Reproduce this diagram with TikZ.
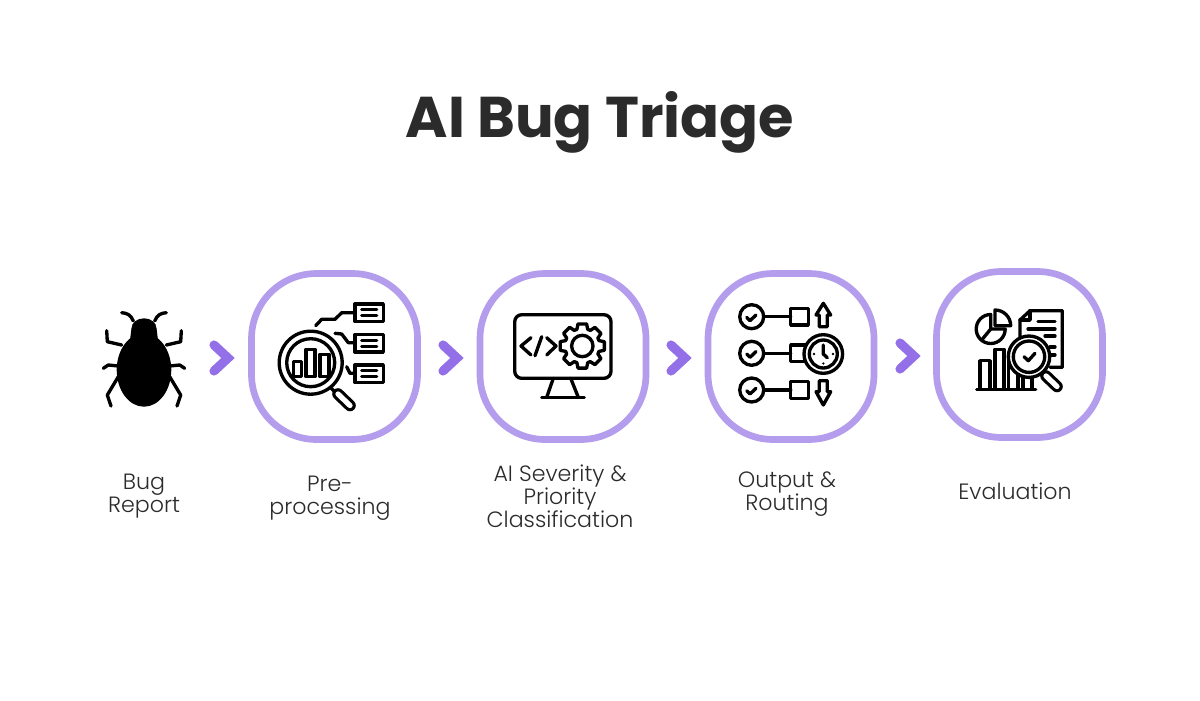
\documentclass[tikz,border=0pt]{standalone}
\usepackage{fontspec}
\setmainfont{Poppins}
\newfontfamily\titlefont{Poppins}[UprightFont=* Bold]
\newfontfamily\labelfont{Poppins}[UprightFont=* Light]
\usetikzlibrary{calc}
\usetikzlibrary{positioning}

\definecolor{ringpurple}{HTML}{B39DEC}
\definecolor{arrowpurple}{HTML}{9470E8}
\definecolor{inkgrey}{HTML}{2B2B2B}

\tikzset{
  stepbox/.style = {draw = ringpurple, line width = 3.8pt, fill = white, minimum size = 3.32cm, rounded corners = 1.3cm},
  nextarrow/.style = {draw = arrowpurple, line width = 5.2pt, line cap = round, miter limit = 10},
  iconline/.style = {draw = black, line width = 1.9pt, line cap = round, line join = round},
  handleout/.style = {draw = black, line width = 6.6pt, line cap = round},
  handlein/.style = {draw = white, line width = 3pt, line cap = round},
  steplabel/.style = {align = center, text = inkgrey, font = \labelfont\fontsize{12.6}{13}\selectfont},
}

\begin{document}
\begin{tikzpicture}[x=0.02cm, y=-0.02cm]

        \fill[white] (0,0) rectangle (1200,700);
        \useasboundingbox (0,0) rectangle (1200,700);

        % title
        \node[text = inkgrey, font = \titlefont\fontsize{32.7}{40}\selectfont] (title) at (600,122) {AI Bug Triage};

        % define center points
        \node[inner sep = 0] (bug_orig) at (144,370) {};
        \node[stepbox] (search_box) at (334.5,356.5) {};
        \node[stepbox] (code_box) at (563,356.5) {};
        \node[stepbox] (route_box) at (791,356.5) {};
        \node[stepbox] (eval_box) at (1019.5,354.5) {};

        % draw the labels
        \node[steplabel] (bug_label) at (144,496) {Bug\\Report};
        \node[steplabel] (search_label) at (330,498) {Pre-\\processing};
        \node[steplabel] (code_label) at (560,496.5) {AI Severity \&\\Priority\\Classification};
        \node[steplabel] (route_label) at (787,494.5) {Output \&\\Routing};
        \node[steplabel] (eval_label) at (1015,491) {Evaluation};

        % draw the arrows
        \coordinate (arrow_1) at (214,358);
        \coordinate (arrow_2) at (443,358);
        \coordinate (arrow_3) at (671,358);
        \coordinate (arrow_4) at (900,356);
        \draw[nextarrow] ($(arrow_1) + (0,-13)$) -- ($(arrow_1) + (14,0)$) -- ($(arrow_1) + (0,13)$);
        \draw[nextarrow] ($(arrow_2) + (0,-13)$) -- ($(arrow_2) + (14,0)$) -- ($(arrow_2) + (0,13)$);
        \draw[nextarrow] ($(arrow_3) + (0,-13)$) -- ($(arrow_3) + (14,0)$) -- ($(arrow_3) + (0,13)$);
        \draw[nextarrow] ($(arrow_4) + (0,-13)$) -- ($(arrow_4) + (14,0)$) -- ($(arrow_4) + (0,13)$);

        % draw the bug
        \fill[black] (bug_orig) ellipse (27.3 and 36.7);
        \fill[black] ($(bug_orig) + (0,-41.7)$) ellipse (12.5 and 10);
        \fill[black] ($(bug_orig) + (-12.5,-41.7)$) -- ($(bug_orig) + (12.5,-41.7)$) -- ($(bug_orig) + (14,-30)$) -- ($(bug_orig) + (-14,-30)$) -- cycle;
        \foreach \s in {-1,1} {
          \draw[iconline] (144+\s*10.7,321) .. controls (144+\s*13,315) and (144+\s*17,313) .. (144+\s*22.3,312.7);
          \draw[iconline] (144+\s*22.3,345) -- (144+\s*36.7,341.7) -- (144+\s*37.3,330.7);
          \draw[iconline] (144+\s*25.7,366) -- (144+\s*35.7,365) -- (144+\s*40.7,368.3);
          \draw[iconline] (144+\s*25.7,376.7) -- (144+\s*36.7,395) -- (144+\s*33,406);
        }

        % draw the search icon
        \draw[iconline] (315.7,325.7) -- (321.7,319.3) -- (335,319.3) -- (341.7,312.7) -- (355,312.7);
        \draw[iconline] (335,333.3) -- (341.7,334) -- (348.3,342.7) -- (355,342.7);
        \draw[iconline] (346.7,366.7) -- (350,373.3) -- (355,373.3);
        \foreach \y in {312.7,343.3,373.7} {
          \draw[iconline] (355,\y-8.8) rectangle (383.3,\y+8.8);
          \draw[iconline] (361.7,\y-3) -- (376.7,\y-3);
          \draw[iconline] (361.7,\y+3) -- (376.7,\y+3);
        }
        \draw[iconline] (331,388) -- (338,395);
        \draw[handleout] (338,394) -- (350,405.5);
        \draw[handlein] (338,394) -- (350,405.5);
        \draw[iconline, fill = white] (310.7,362.7) circle (31.5);
        \draw[iconline] (310.7,362.7) circle (24);
        \draw[iconline] (293.3,361.7) rectangle (301.7,376.7);
        \draw[iconline] (306,349.3) rectangle (315,376.7);
        \draw[iconline] (320,354.3) rectangle (329,376.7);

        % draw the monitor icon
        \draw[iconline, rounded corners = 4] (514.7,314.7) rectangle (611,378.3);
        \draw[iconline] (553.3,378.3) -- (546.7,397.3);
        \draw[iconline] (570.7,378.3) -- (578.3,397.3);
        \draw[iconline] (541.7,397.3) -- (584.3,397.3);
        \draw[iconline] (531,337.7) -- (521,346) -- (531,355);
        \draw[iconline] (541.7,336.7) -- (535,355.7);
        \draw[iconline] (546.7,337.7) -- (556,346) -- (546.7,355);
        \coordinate (gear_orig) at (582.3,346);
        \draw[iconline] ($(gear_orig) + (-18:17.5)$)
          \foreach \a in {0,45,...,315} {
            -- ($(gear_orig) + (\a-18:17.5)$) -- ($(gear_orig) + (\a-11:22.5)$)
            -- ($(gear_orig) + (\a+11:22.5)$) -- ($(gear_orig) + (\a+18:17.5)$)
          } -- cycle;
        \draw[iconline] (gear_orig) circle (10.7);

        % draw the routing icon
        \foreach \y in {316.7,353.3,390} {
          \draw[iconline] (751.7,\y) circle (12);
          \draw[iconline] (746.7,\y+0.7) -- (750,\y+4) -- (756,\y-1.7);
          \draw[iconline] (763.7,\y) -- (790.7,\y);
          \draw[iconline] (790.7,\y-8.3) rectangle (808.3,\y+8.3);
        }
        \draw[iconline] (823.3,303.3) -- (830.7,315) -- (827.3,315) -- (827.3,326.7) -- (819.3,326.7) -- (819.3,315) -- (816,315) -- cycle;
        \draw[iconline] (823.3,405) -- (830.7,391.7) -- (827.3,391.7) -- (827.3,380.7) -- (819.3,380.7) -- (819.3,391.7) -- (816,391.7) -- cycle;
        \coordinate (clock_orig) at (823.3,354);
        \draw[iconline, fill = white] (clock_orig) circle (19.3);
        \draw[iconline] (clock_orig) circle (14);
        \draw[iconline] (823.3,345) -- (clock_orig) -- (827.3,357.7);
        \fill[black] (814,354) circle (1.3);
        \fill[black] (833,354) circle (1.3);
        \fill[black] (823.3,363.5) circle (1.3);

        % draw the evaluation icon
        \draw[iconline] (995,325.7) -- (995,310) arc (-90:0:15.7) -- cycle;
        \draw[iconline] (990.7,314.5) arc (-90:-360:14.5) -- (990.7,329) -- cycle;
        \draw[iconline] (990.7,329) -- (981.7,340);
        \draw[iconline] (1020,338) -- (1020,320) -- (1030,310.7) -- (1062.3,310.7) -- (1062.3,367.3) -- (1050,367.3);
        \draw[iconline] (1030,310.7) -- (1030,320) -- (1020,320);
        \draw[iconline] (1038,321.7) -- (1055,321.7);
        \draw[iconline] (1028,329) -- (1055,329);
        \draw[iconline] (1045,336) -- (1055,336);
        \draw[iconline] (1050,347) -- (1055,347);
        \draw[iconline] (1050,355) -- (1055,355);
        \draw[iconline] (976.7,389.3) -- (1035.7,389.3);
        \draw[iconline] (980,389.3) -- (980,360.7) -- (990,360.7) -- (990,389.3);
        \draw[iconline] (995,389.3) -- (995,349.3) -- (1004,349.3) -- (1004,389.3);
        \draw[iconline] (1008.3,389.3) -- (1008.3,360);
        \draw[iconline] (1018,389.3) -- (1018,370);
        \draw[iconline] (1023,389.3) -- (1023,375);
        \draw[iconline] (1032,389.3) -- (1032,375);
        \draw[handleout] (1046,376) -- (1057,386.5);
        \draw[handlein] (1046,376) -- (1057,386.5);
        \draw[iconline, fill = white] (1029,356.7) circle (20.7);
        \draw[iconline] (1029,356.7) circle (15.7);
        \draw[iconline] (1024,356.7) -- (1028.3,360.7) -- (1035,353.3);

      \end{tikzpicture}
\end{document}
